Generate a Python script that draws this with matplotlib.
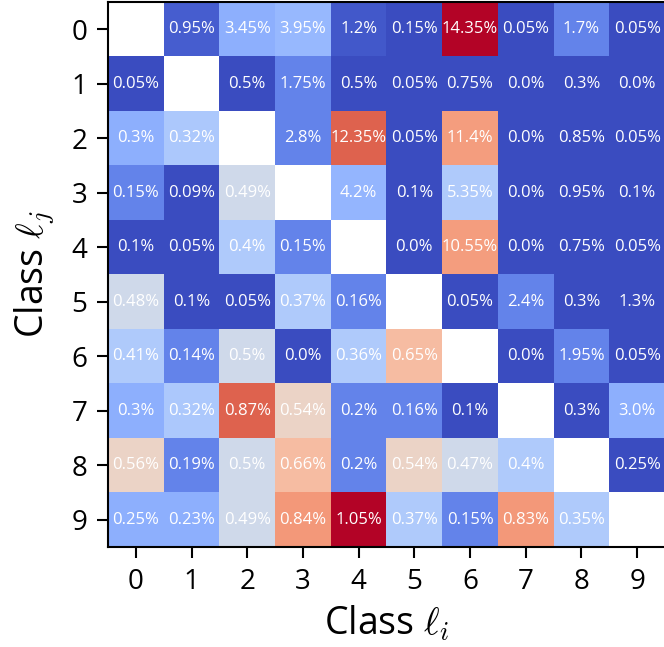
import numpy as np
import matplotlib
matplotlib.use("Agg")
import matplotlib.pyplot as plt

classes = [str(i) for i in range(10)]

# annotation values (%), row = class l_j, col = class l_i, diagonal empty
pct = [
    [None, 0.95, 3.45, 3.95, 1.2, 0.15, 14.35, 0.05, 1.7, 0.05],
    [0.05, None, 0.5, 1.75, 0.5, 0.05, 0.75, 0.0, 0.3, 0.0],
    [0.3, 0.32, None, 2.8, 12.35, 0.05, 11.4, 0.0, 0.85, 0.05],
    [0.15, 0.09, 0.49, None, 4.2, 0.1, 5.35, 0.0, 0.95, 0.1],
    [0.1, 0.05, 0.4, 0.15, None, 0.0, 10.55, 0.0, 0.75, 0.05],
    [0.48, 0.1, 0.05, 0.37, 0.16, None, 0.05, 2.4, 0.3, 1.3],
    [0.41, 0.14, 0.5, 0.0, 0.36, 0.65, None, 0.0, 1.95, 0.05],
    [0.3, 0.32, 0.87, 0.54, 0.2, 0.16, 0.1, None, 0.3, 3.0],
    [0.56, 0.19, 0.5, 0.66, 0.2, 0.54, 0.47, 0.4, None, 0.25],
    [0.25, 0.23, 0.49, 0.84, 1.05, 0.37, 0.15, 0.83, 0.35, None],
]

# cell shade on the coolwarm scale (0..1)
shade = [
    [np.nan, 0.04, 0.25, 0.28, 0.03, 0.0, 1.0, 0.0, 0.13, 0.0],
    [0.0, np.nan, 0.0, 0.13, 0.0, 0.0, 0.0, 0.0, 0.0, 0.0],
    [0.25, 0.34, np.nan, 0.13, 0.87, 0.0, 0.74, 0.0, 0.0, 0.0],
    [0.13, 0.0, 0.45, np.nan, 0.27, 0.0, 0.35, 0.0, 0.0, 0.0],
    [0.0, 0.0, 0.35, 0.13, np.nan, 0.0, 0.74, 0.0, 0.0, 0.0],
    [0.45, 0.0, 0.0, 0.35, 0.13, np.nan, 0.0, 0.13, 0.0, 0.0],
    [0.35, 0.13, 0.45, 0.0, 0.35, 0.65, np.nan, 0.0, 0.13, 0.0],
    [0.25, 0.34, 0.87, 0.56, 0.13, 0.13, 0.0, np.nan, 0.0, 0.25],
    [0.56, 0.13, 0.45, 0.65, 0.13, 0.56, 0.45, 0.35, np.nan, 0.0],
    [0.25, 0.25, 0.45, 0.75, 1.0, 0.35, 0.13, 0.75, 0.35, np.nan],
]

plt.rcParams["font.family"] = ["Open Sans", "DejaVu Sans"]
plt.rcParams["mathtext.fontset"] = "cm"

fig = plt.figure(figsize=(6.64, 6.47), dpi=100, facecolor="white")
ax = fig.add_axes([108 / 664, 100 / 647, 557 / 664, 545 / 647])

cmap = plt.get_cmap("coolwarm").copy()
cmap.set_bad("white")
ax.imshow(np.ma.masked_invalid(np.array(shade)), cmap=cmap, vmin=0, vmax=1,
          aspect="auto", interpolation="nearest")

for r in range(10):
    for c in range(10):
        v = pct[r][c]
        if v is None:
            continue
        ax.text(c, r, f"{v}%", ha="center", va="center", color="white", fontsize=12)

ax.set_xticks(range(10))
ax.set_yticks(range(10))
ax.set_xticklabels(classes, fontsize=20)
ax.set_yticklabels(classes, fontsize=20)
ax.tick_params(length=8, width=1.5, pad=7)
for s in ax.spines.values():
    s.set_linewidth(1.5)
ax.spines["right"].set_visible(False)
ax.set_xlabel(r"Class $\ell_i$", fontsize=27, labelpad=6)
ax.set_ylabel(r"Class $\ell_j$", fontsize=27, labelpad=10)

plt.savefig("out.png", dpi=100, facecolor="white")
